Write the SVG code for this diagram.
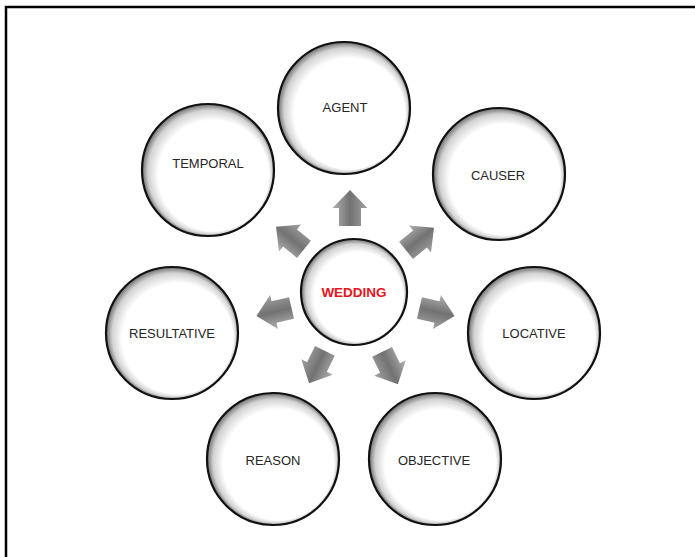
<svg xmlns="http://www.w3.org/2000/svg" xmlns:xlink="http://www.w3.org/1999/xlink" width="695" height="557" viewBox="0 0 695 557">
  <defs>
    <!-- light falls from the lower right, so the shading gathers on the upper-left rim -->
    <radialGradient id="ballFill" cx="0.5" cy="0.5" r="0.5" fx="0.77" fy="0.77">
      <stop offset="0" stop-color="#ffffff"/>
      <stop offset="0.84" stop-color="#ffffff"/>
      <stop offset="0.94" stop-color="#d2d2d2"/>
      <stop offset="1" stop-color="#6e6e6e"/>
    </radialGradient>
    <linearGradient id="arrowFill" x1="0" y1="0" x2="0" y2="1">
      <stop offset="0" stop-color="#b0b0b0"/>
      <stop offset="0.5" stop-color="#727272"/>
      <stop offset="1" stop-color="#a2a2a2"/>
    </linearGradient>
    <!-- block arrow pointing along +x, centred on the origin -->
    <polygon id="blockArrow" points="-18,-11 0,-11 0,-17.5 18,0 0,17.5 0,11 -18,11" fill="url(#arrowFill)"/>
  </defs>
  <style>
    .ball { fill: url(#ballFill); stroke: #111; stroke-width: 2.2; }
    .label { font-family: "Liberation Sans", Arial, sans-serif; font-size: 13px; fill: #262626; text-anchor: middle; dominant-baseline: central; }
    .hub { font-family: "Liberation Sans", Arial, sans-serif; font-size: 13.5px; font-weight: bold; fill: #e8141c; text-anchor: middle; dominant-baseline: central; }
  </style>

  <rect width="695" height="557" fill="#fff"/>
  <!-- frame: only the top and left edges fall inside the page -->
  <path d="M6,557 V7 H695" fill="none" stroke="#000" stroke-width="2.5"/>

  <!-- arrows radiating from the hub -->
  <g id="connectors">
    <use xlink:href="#blockArrow" transform="translate(350,208) rotate(-90)"/>
    <use xlink:href="#blockArrow" transform="translate(420,239) rotate(-39)"/>
    <use xlink:href="#blockArrow" transform="translate(437,312) rotate(13)"/>
    <use xlink:href="#blockArrow" transform="translate(390,368) rotate(64)"/>
    <use xlink:href="#blockArrow" transform="translate(317,367) rotate(116)"/>
    <use xlink:href="#blockArrow" transform="translate(274,312) rotate(167)"/>
    <use xlink:href="#blockArrow" transform="translate(290,238) rotate(-141)"/>
  </g>

  <g id="node-wedding">
    <circle class="ball" cx="354" cy="292" r="53"/>
    <text class="hub" x="354" y="292">WEDDING</text>
  </g>
  <g id="node-agent">
    <circle class="ball" cx="344" cy="108" r="66"/>
    <text class="label" x="345" y="107">AGENT</text>
  </g>
  <g id="node-causer">
    <circle class="ball" cx="499" cy="174" r="66"/>
    <text class="label" x="498" y="175">CAUSER</text>
  </g>
  <g id="node-locative">
    <circle class="ball" cx="534" cy="333" r="66"/>
    <text class="label" x="534" y="333">LOCATIVE</text>
  </g>
  <g id="node-objective">
    <circle class="ball" cx="435" cy="459" r="66"/>
    <text class="label" x="434" y="460">OBJECTIVE</text>
  </g>
  <g id="node-reason">
    <circle class="ball" cx="273" cy="459" r="66"/>
    <text class="label" x="273" y="460">REASON</text>
  </g>
  <g id="node-resultative">
    <circle class="ball" cx="172" cy="333" r="66"/>
    <text class="label" x="172" y="333">RESULTATIVE</text>
  </g>
  <g id="node-temporal">
    <circle class="ball" cx="208" cy="170" r="66"/>
    <text class="label" x="208" y="163">TEMPORAL</text>
  </g>
</svg>
